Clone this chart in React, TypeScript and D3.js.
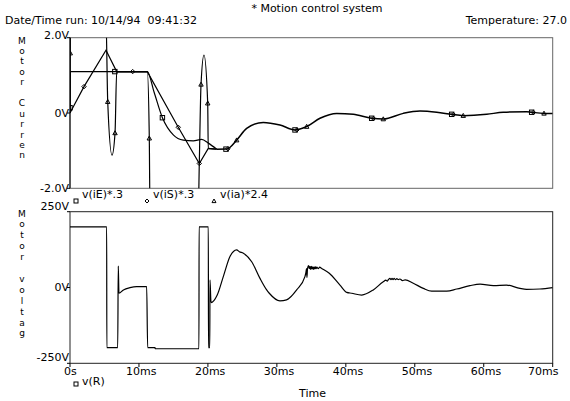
import React, { useEffect, useRef } from 'react';
import * as d3 from 'd3';

type Pt = [number, number];

// axis ticks
const xTicks = [0, 10, 20, 30, 40, 50, 60, 70];
const xTickLabels = ['0s', '10ms', '20ms', '30ms', '40ms', '50ms', '60ms', '70ms'];
const topYTicks = [2, 0, -2];
const topYLabels = ['2.0V', '0V', '-2.0V'];
const botYTicks = [250, 0, -250];
const botYLabels = ['250V', '0V', '-250V'];

// damped tail shared by the three currents after ~22ms
const tail: Pt[] = [
  [21.27, -0.96], [22.72, -0.956], [24.17, -0.72], [25.62, -0.41], [28.03, -0.25],
  [30.45, -0.32], [32.63, -0.45], [34.32, -0.36], [36.25, -0.14], [38.68, -0.01],
  [41.08, -0.035], [43.75, -0.14], [45.43, -0.16], [48.33, -0.01], [50.75, 0.05],
  [53.18, 0.02], [55.35, -0.035], [57.03, -0.07], [60.43, -0.035], [62.83, 0.02],
  [66.23, 0.035], [66.95, 0.02], [68.74, -0.01], [70, -0.01],
];

// v(iE)*.3
const iE: Pt[] = [
  [0, 0], [0.05, 1.1], [11.21, 1.1], [12.2, 0.55], [13.4, -0.125], [14.98, -0.58],
  [16.43, -0.72], [17.88, -0.74], [19.1, -0.7], [20.06, -0.8], [21.27, -0.96],
];
const iEMarks: Pt[] = [
  [0, 0.14], [6.5, 1.1], [13.4, -0.125], [22.62, -0.96], [32.63, -0.45],
  [43.75, -0.14], [55.35, -0.035], [66.95, 0.02],
];

// v(iS)*.3
const iS: Pt[] = [
  [0, 0], [2.03, 0.7], [5.22, 1.67], [6.77, 1.1], [9.09, 1.1], [11.21, 1.1],
  [15.7, -0.38], [18.75, -1.34], [20.05, -0.94], [21.27, -0.96],
];
const iSMarks: Pt[] = [
  [2.03, 0.7], [9.09, 1.1], [15.7, -0.38], [18.75, -1.34], [22.9, -0.95],
  [32.9, -0.45], [44.0, -0.145], [55.6, -0.04], [67.2, 0.015],
];

// v(ia)*2.4
const ia: Pt[] = [
  [0, 0], [0.08, 2.6], [5.2, 2.6], [5.47, 0.3], [6.09, -1.12], [6.53, -0.53],
  [6.77, 1.09], [11.21, 1.09], [11.5, -0.67], [11.6, -2.6], [18.6, -2.6],
  [18.75, -1.34], [19.0, 0.76], [19.43, 1.54], [19.97, 0.26], [20.05, -0.94],
  [21.27, -0.96],
];
const iaMarks: Pt[] = [
  [0.04, 1.59], [5.47, 0.3], [6.53, -0.53], [11.5, -0.67], [19.0, 0.76],
  [19.97, 0.26], [24.17, -0.72], [34.32, -0.36], [45.43, -0.16], [57.03, -0.07],
  [68.74, -0.01],
];

// v(R)
const vR: Pt[] = [
  [0, 200], [5.32, 200], [5.34, -198], [6.92, -198], [7.0, 71], [7.1, -19],
  [7.75, -8], [8.7, -0.5], [9.66, 3], [11.12, 3], [11.26, -198], [12.33, -198],
  [12.35, -202], [18.7, -202], [18.72, 200], [20.06, 200], [20.08, -198],
  [20.27, -198], [20.3, 25], [20.45, -50], [21.35, -25], [22.3, 41], [23.2, 102],
  [24.17, 124], [24.56, 118], [25.14, 113], [26.35, 85], [27.55, 30], [28.52, -8],
  [28.9, -19], [30.45, -44], [31.4, -41], [32.87, -8], [34.07, 36], [34.2, 48],
  [34.3, 62], [34.36, 33], [34.45, 64], [34.6, 72], [34.7, 62], [34.8, 70],
  [34.9, 60], [35.0, 70], [35.1, 61], [35.2, 68], [35.3, 60], [35.4, 68],
  [35.5, 61], [35.6, 68], [35.7, 62], [35.8, 67], [36.0, 62], [36.2, 67],
  [36.5, 63], [37.6, 47], [39.15, 8], [40.13, -16], [40.85, -19], [42.3, -25],
  [43.98, -8], [45.43, 19], [45.8, 24], [46.0, 21], [46.2, 27], [46.4, 30],
  [46.55, 26], [46.7, 30], [46.85, 26], [47.0, 30], [47.2, 26], [47.4, 29],
  [47.6, 26], [47.85, 28], [48.2, 23], [48.6, 25], [49.78, 14],
  [51.24, -3], [52.45, -12], [54.63, -12], [56.08, -5], [58.0, 6], [59.46, 11],
  [61.4, 6], [63.3, 8], [65.25, -3], [66.2, -6], [68.15, -5], [70, -0.5],
];

const App = () => {
  const svgRef = useRef<SVGSVGElement>(null);

  useEffect(() => {
    const svg = d3.select(svgRef.current);
    svg.selectAll('*').remove();
    const font = 'DejaVu Sans, sans-serif';

    const x = d3.scaleLinear().domain([0, 70]).range([70, 552.7]);
    const yTop = d3.scaleLinear().domain([-2, 2]).range([188.3, 37.7]);
    const yBot = d3.scaleLinear().domain([-250, 250]).range([363.3, 211.7]);

    const txt = (s: string, tx: number, ty: number, anchor = 'start') =>
      svg.append('text')
        .attr('x', tx).attr('y', ty)
        .attr('font-family', font).attr('font-size', 11)
        .attr('text-anchor', anchor).attr('fill', '#000')
        .style('white-space', 'pre')
        .text(s);

    // header
    txt('* Motion control system', 317, 12, 'middle');
    txt('Date/Time run: 10/14/94  09:41:32', 5, 24);
    txt('Temperature: 27.0', 567, 24, 'end');

    const defs = svg.append('defs');
    defs.append('clipPath').attr('id', 'clipTop').append('rect')
      .attr('x', 70).attr('y', 37.7).attr('width', 482.7).attr('height', 150.6);
    defs.append('clipPath').attr('id', 'clipBot').append('rect')
      .attr('x', 70).attr('y', 211.7).attr('width', 482.7).attr('height', 151.6);

    // frames
    svg.append('rect').attr('x', 70).attr('y', 37.7).attr('width', 482.7).attr('height', 150.6)
      .attr('fill', 'none').attr('stroke', '#666');
    svg.append('line').attr('x1', 70).attr('x2', 70).attr('y1', 37.7).attr('y2', 188.3).attr('stroke', '#000');
    svg.append('rect').attr('x', 70).attr('y', 211.7).attr('width', 482.7).attr('height', 151.6)
      .attr('fill', 'none').attr('stroke', '#222');

    // y ticks + labels
    topYTicks.forEach((v, i) => {
      svg.append('line').attr('x1', 67).attr('x2', 70).attr('y1', yTop(v)).attr('y2', yTop(v)).attr('stroke', '#000');
      txt(topYLabels[i], 69, yTop(v) + (i === 0 ? 1 : 4), 'end');
    });
    botYTicks.forEach((v, i) => {
      svg.append('line').attr('x1', 67).attr('x2', 70).attr('y1', yBot(v)).attr('y2', yBot(v)).attr('stroke', '#000');
      txt(botYLabels[i], 69, yBot(v) + (i === 0 ? -2 : i === 1 ? 3 : -2.5), 'end');
    });

    // x ticks + labels
    xTicks.forEach((t, i) => {
      svg.append('line').attr('x1', x(t)).attr('x2', x(t)).attr('y1', 363.3).attr('y2', 367).attr('stroke', '#000');
      const digits = xTickLabels[i].replace(/[a-z]/g, '').length;
      const sx = Math.min(x(t) - digits * 7 + 1, 528);
      txt(xTickLabels[i], sx, 374.5);
    });
    txt('Time', 299, 397);

    // vertical axis titles, one letter per line
    const vtitle = (s: string, y0: number, step: number) => {
      s.split('').forEach((c, i) => {
        if (c === ' ') return;
        svg.append('text')
          .attr('x', 22).attr('y', y0 + i * step + 3.5)
          .attr('font-family', font).attr('font-size', 9)
          .attr('text-anchor', 'middle').attr('fill', '#000')
          .text(c);
      });
    };
    vtitle('Motor Curren', 40, 10.45);
    vtitle('Motor voltag', 213, 10.9);

    const lineTop = d3.line<Pt>().x(d => x(d[0])).y(d => yTop(d[1])).curve(d3.curveMonotoneX);
    const lineTopLin = d3.line<Pt>().x(d => x(d[0])).y(d => yTop(d[1]));
    const lineBot = d3.line<Pt>().x(d => x(d[0])).y(d => yBot(d[1])).curve(d3.curveMonotoneX);

    const gTop = svg.append('g').attr('clip-path', 'url(#clipTop)');
    const stroke = (p: any) => p.attr('fill', 'none').attr('stroke', '#000').attr('stroke-width', 1.2);
    stroke(gTop.append('path').datum(iE).attr('d', lineTop));
    stroke(gTop.append('path').datum(iS).attr('d', lineTopLin));
    stroke(gTop.append('path').datum(ia).attr('d', lineTop));
    stroke(gTop.append('path').datum(tail).attr('d', lineTop)).attr('stroke-width', 1.5);

    const square = (g: any, cx: number, cy: number, r: number) =>
      g.append('rect').attr('x', cx - r).attr('y', cy - r).attr('width', 2 * r).attr('height', 2 * r)
        .attr('fill', 'none').attr('stroke', '#000').attr('stroke-width', 1);
    const diamond = (g: any, cx: number, cy: number, r: number) =>
      g.append('path').attr('d', `M${cx},${cy - r}L${cx + r},${cy}L${cx},${cy + r}L${cx - r},${cy}Z`)
        .attr('fill', 'none').attr('stroke', '#000').attr('stroke-width', 1);
    const triangle = (g: any, cx: number, cy: number, r: number) =>
      g.append('path').attr('d', `M${cx},${cy - r}L${cx + r},${cy + r * 0.8}L${cx - r},${cy + r * 0.8}Z`)
        .attr('fill', 'none').attr('stroke', '#000').attr('stroke-width', 1);

    iEMarks.forEach(d => square(gTop, x(d[0]), yTop(d[1]), 2.2));
    iSMarks.forEach(d => diamond(gTop, x(d[0]), yTop(d[1]), 2.2));
    iaMarks.forEach(d => triangle(gTop, x(d[0]), yTop(d[1]), 2.2));

    // top legend
    square(svg, 76, 201, 2);
    txt('v(iE)*.3', 82, 198);
    diamond(svg, 147, 201, 2);
    txt('v(iS)*.3', 153, 198);
    triangle(svg, 214, 201, 2);
    txt('v(ia)*2.4', 220, 198);

    const gBot = svg.append('g').attr('clip-path', 'url(#clipBot)');
    stroke(gBot.append('path').datum(vR).attr('d', lineBot));

    // bottom legend
    square(svg, 76, 384, 2);
    txt('v(R)', 82, 385);
  }, []);

  return (
    <svg ref={svgRef} width={570} height={401}
      style={{ position: 'absolute', left: 0, top: 0, background: '#fff' }} />
  );
};

export default App;
